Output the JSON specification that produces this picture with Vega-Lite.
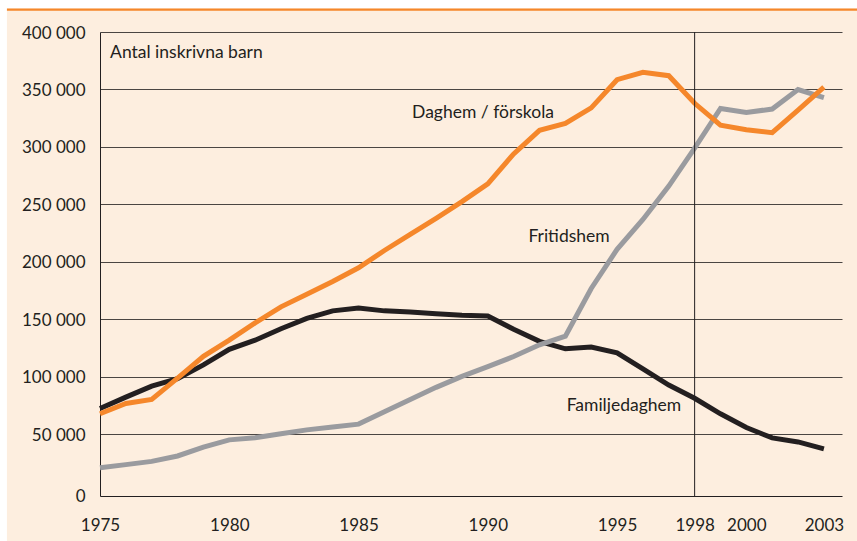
{
  "$schema": "https://vega.github.io/schema/vega-lite/v6.json",
  "width": 742,
  "height": 464,
  "autosize": {"type": "none"},
  "padding": {"left": 100, "top": 32, "right": 15, "bottom": 45},
  "background": "#FDEEDF",
  "config": {
    "view": {"stroke": null},
    "font": "Lato",
    "axis": {"labelFont": "Lato", "labelFontSize": 17, "labelColor": "#231F20", "ticks": false, "tickSize": 0, "domainColor": "#231F20", "domainWidth": 1, "title": null}
  },
  "datasets": {
    "daghem": [
      {"year": 1975, "value": 68000}, {"year": 1976, "value": 77000}, {"year": 1977, "value": 80500},
      {"year": 1978, "value": 99000}, {"year": 1979, "value": 118000}, {"year": 1980, "value": 132000},
      {"year": 1981, "value": 147000}, {"year": 1982, "value": 161000}, {"year": 1983, "value": 172000},
      {"year": 1984, "value": 183000}, {"year": 1985, "value": 195000}, {"year": 1986, "value": 210000},
      {"year": 1987, "value": 224000}, {"year": 1988, "value": 238000}, {"year": 1989, "value": 252500},
      {"year": 1990, "value": 268000}, {"year": 1991, "value": 294000}, {"year": 1992, "value": 314500},
      {"year": 1993, "value": 320500}, {"year": 1994, "value": 334000}, {"year": 1995, "value": 358500},
      {"year": 1996, "value": 365000}, {"year": 1997, "value": 362000}, {"year": 1998, "value": 338000},
      {"year": 1999, "value": 319000}, {"year": 2000, "value": 315000}, {"year": 2001, "value": 312500},
      {"year": 2002, "value": 332000}, {"year": 2003, "value": 352000}
    ],
    "familj": [
      {"year": 1975, "value": 72600}, {"year": 1976, "value": 82500}, {"year": 1977, "value": 92000},
      {"year": 1978, "value": 98500}, {"year": 1979, "value": 110500}, {"year": 1980, "value": 124000},
      {"year": 1981, "value": 132000}, {"year": 1982, "value": 142000}, {"year": 1983, "value": 151000},
      {"year": 1984, "value": 157500}, {"year": 1985, "value": 160000}, {"year": 1986, "value": 157500},
      {"year": 1987, "value": 156600}, {"year": 1988, "value": 155000}, {"year": 1989, "value": 153700},
      {"year": 1990, "value": 153000}, {"year": 1991, "value": 141500}, {"year": 1992, "value": 131000},
      {"year": 1993, "value": 124500}, {"year": 1994, "value": 126000}, {"year": 1995, "value": 121000},
      {"year": 1996, "value": 107000}, {"year": 1997, "value": 93000}, {"year": 1998, "value": 81500},
      {"year": 1999, "value": 68000}, {"year": 2000, "value": 56000}, {"year": 2001, "value": 47000},
      {"year": 2002, "value": 43500}, {"year": 2003, "value": 37500}
    ],
    "fritids": [
      {"year": 1975, "value": 21000}, {"year": 1976, "value": 23800}, {"year": 1977, "value": 26600},
      {"year": 1978, "value": 31300}, {"year": 1979, "value": 39000}, {"year": 1980, "value": 45300},
      {"year": 1981, "value": 47200}, {"year": 1982, "value": 50600}, {"year": 1983, "value": 54000},
      {"year": 1984, "value": 56500}, {"year": 1985, "value": 59000}, {"year": 1986, "value": 69700},
      {"year": 1987, "value": 80400}, {"year": 1988, "value": 91000}, {"year": 1989, "value": 100500},
      {"year": 1990, "value": 109000}, {"year": 1991, "value": 117800}, {"year": 1992, "value": 128000},
      {"year": 1993, "value": 135500}, {"year": 1994, "value": 177000}, {"year": 1995, "value": 211000},
      {"year": 1996, "value": 237000}, {"year": 1997, "value": 266000}, {"year": 1998, "value": 299000},
      {"year": 1999, "value": 333500}, {"year": 2000, "value": 330000}, {"year": 2001, "value": 333000},
      {"year": 2002, "value": 350000}, {"year": 2003, "value": 343000}
    ],
    "one": [{}]
  },
  "layer": [
    {
      "data": {"name": "familj"},
      "mark": {"type": "line", "color": "#231F20", "strokeWidth": 5},
      "encoding": {
        "x": {"field": "year", "type": "quantitative", "scale": {"domain": [1975, 2003.7], "nice": false, "zero": false},
          "axis": {"values": [1975, 1980, 1985, 1990, 1995, 1998, 2000, 2003], "format": "d", "grid": false, "labelPadding": 21, "labelFlush": false}},
        "y": {"field": "value", "type": "quantitative", "scale": {"domain": [-3500, 400000], "nice": false, "zero": false},
          "axis": {"values": [0, 50000, 100000, 150000, 200000, 250000, 300000, 350000, 400000],
            "labelExpr": "replace(format(datum.value, ','), ',', ' ')",
            "grid": true, "gridWidth": 1,
            "gridColor": {"condition": {"test": "datum.value === 0", "value": "transparent"}, "value": "#4A4542"},
            "labelPadding": 15,
            "labelOffset": {"condition": {"test": "datum.value === 0", "value": 5}, "value": 1}}}
      }
    },
    {
      "data": {"name": "fritids"},
      "mark": {"type": "line", "color": "#9A9B9F", "strokeWidth": 5},
      "encoding": {
        "x": {"field": "year", "type": "quantitative"},
        "y": {"field": "value", "type": "quantitative"}
      }
    },
    {
      "data": {"name": "daghem"},
      "mark": {"type": "line", "color": "#F5872B", "strokeWidth": 5},
      "encoding": {
        "x": {"field": "year", "type": "quantitative"},
        "y": {"field": "value", "type": "quantitative"}
      }
    },
    {
      "data": {"name": "one"},
      "mark": {"type": "rule", "color": "#231F20", "strokeWidth": 1},
      "encoding": {"x": {"datum": 1998, "type": "quantitative"}}
    },
    {
      "data": {"name": "one"},
      "mark": {"type": "rect", "color": "#FFFFFF"},
      "encoding": {
        "x": {"datum": 1960, "type": "quantitative"}, "x2": {"datum": 2010},
        "y": {"datum": 420500, "type": "quantitative"}, "y2": {"datum": 460000}
      }
    },
    {
      "data": {"name": "one"},
      "mark": {"type": "rect", "color": "#FFFFFF"},
      "encoding": {
        "x": {"datum": 1960, "type": "quantitative"}, "x2": {"datum": 1971.4},
        "y": {"datum": -100000, "type": "quantitative"}, "y2": {"datum": 460000}
      }
    },
    {
      "data": {"name": "one"},
      "mark": {"type": "rule", "color": "#F5872B", "strokeWidth": 2.2},
      "encoding": {
        "x": {"datum": 1971.4, "type": "quantitative"}, "x2": {"datum": 2010},
        "y": {"datum": 419500, "type": "quantitative"}
      }
    },
    {
      "data": {"name": "one"},
      "mark": {"type": "text", "text": "Antal inskrivna barn", "align": "left", "baseline": "alphabetic", "font": "Lato", "fontSize": 17.5, "color": "#231F20"},
      "encoding": {"x": {"datum": 1975.39, "type": "quantitative"}, "y": {"datum": 377800, "type": "quantitative"}}
    },
    {
      "data": {"name": "one"},
      "mark": {"type": "text", "text": "Daghem / förskola", "align": "left", "baseline": "alphabetic", "font": "Lato", "fontSize": 17.5, "color": "#231F20"},
      "encoding": {"x": {"datum": 1987.07, "type": "quantitative"}, "y": {"datum": 325200, "type": "quantitative"}}
    },
    {
      "data": {"name": "one"},
      "mark": {"type": "text", "text": "Fritidshem", "align": "left", "baseline": "alphabetic", "font": "Lato", "fontSize": 17.5, "color": "#231F20"},
      "encoding": {"x": {"datum": 1991.57, "type": "quantitative"}, "y": {"datum": 217800, "type": "quantitative"}}
    },
    {
      "data": {"name": "one"},
      "mark": {"type": "text", "text": "Familjedaghem", "align": "left", "baseline": "alphabetic", "font": "Lato", "fontSize": 17.5, "color": "#231F20"},
      "encoding": {"x": {"datum": 1993.05, "type": "quantitative"}, "y": {"datum": 70400, "type": "quantitative"}}
    }
  ]
}
